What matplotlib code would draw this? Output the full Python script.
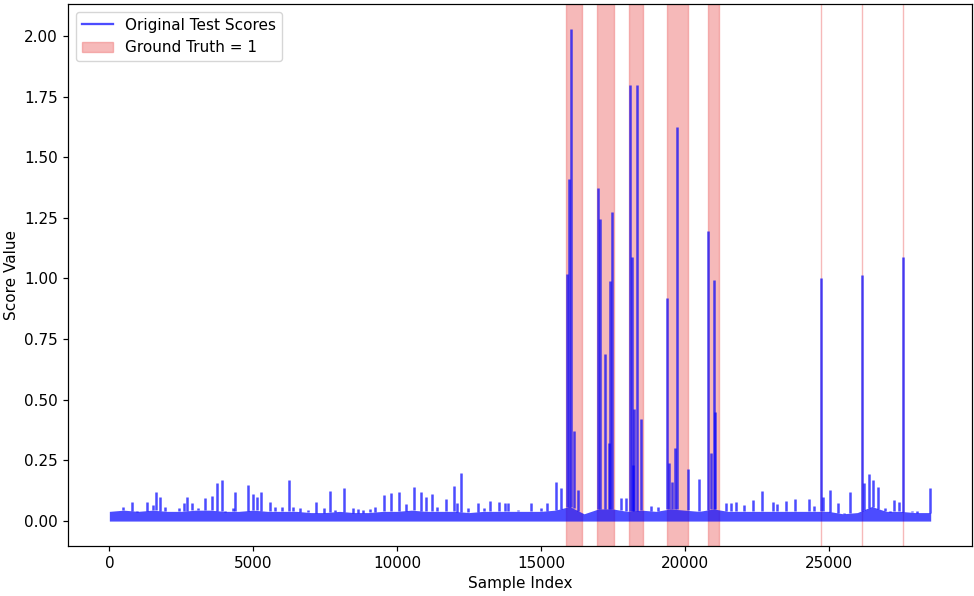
#!/usr/bin/env python3

import numpy as np
import matplotlib
matplotlib.use("Agg")
import matplotlib.pyplot as plt
from matplotlib.lines import Line2D
from matplotlib.patches import Patch

# solid low-level band of the score trace (upper edge, read every ~500 samples)
band_idx = [0, 500, 1000, 1500, 2000, 2500, 3000, 3500, 4000, 4500, 5000, 5500,
            6000, 6500, 7000, 7500, 8000, 8500, 9000, 9500, 10000, 10500, 11000,
            11500, 12000, 12500, 13000, 13500, 14000, 14500, 15000, 15500, 16000,
            16500, 17000, 17500, 18000, 18500, 19000, 19500, 20000, 20500, 21000,
            21500, 22000, 22500, 23000, 23500, 24000, 24500, 25000, 25500, 26000,
            26500, 27000, 27500, 28000, 28550]
band_top = [0.040, 0.045, 0.040, 0.045, 0.040, 0.040, 0.045, 0.045, 0.040, 0.040,
            0.045, 0.040, 0.040, 0.040, 0.035, 0.035, 0.040, 0.035, 0.035, 0.040,
            0.040, 0.045, 0.040, 0.040, 0.040, 0.035, 0.040, 0.040, 0.040, 0.040,
            0.040, 0.045, 0.060, 0.030, 0.050, 0.050, 0.040, 0.045, 0.040, 0.050,
            0.045, 0.040, 0.050, 0.040, 0.040, 0.040, 0.040, 0.040, 0.040, 0.040,
            0.040, 0.030, 0.035, 0.060, 0.040, 0.040, 0.035, 0.035]

# individual spikes of the score trace
spike_idx = [0, 372, 486, 778, 951, 1299, 1507, 1620, 1760, 1934, 2420, 2594, 2708,
             2861, 3090, 3323, 3556, 3750, 3924, 4017, 4285, 4365, 4806, 5000, 5118,
             5267, 5580, 5753, 5986, 6250, 6389, 6622, 6910, 7167, 7465, 7663, 7837,
             8160, 8472, 8646, 8819, 9052, 9226, 9538, 9806, 10059, 10326, 10590,
             10823, 10997, 11215, 11403, 11691, 11979, 12097, 12236, 12465, 12813,
             13021, 13218, 13542, 13740, 13854, 14201, 14642, 15014, 15222, 15510,
             15708, 15892, 15986, 16056, 16135, 16285, 16979, 17038, 17212, 17351,
             17420, 17479, 17792, 17965, 18097, 18160, 18201, 18236, 18333, 18486,
             18833, 19063, 19399, 19469, 19573, 19660, 19722, 20104, 20510, 20813,
             20917, 21007, 21049, 21438, 21611, 21785, 22073, 22361, 22688, 23056,
             23194, 23521, 23833, 24306, 24503, 24729, 24792, 25058, 25336, 25545,
             25729, 25892, 26160, 26229, 26389, 26542, 26725, 26958, 27132, 27281,
             27465, 27594, 27917, 28079, 28347, 28521]
spike_val = [0.042, 0.045, 0.056, 0.077, 0.036, 0.080, 0.066, 0.121, 0.098, 0.056,
             0.052, 0.076, 0.099, 0.076, 0.052, 0.096, 0.103, 0.158, 0.168, 0.036,
             0.052, 0.118, 0.148, 0.110, 0.098, 0.121, 0.080, 0.059, 0.060, 0.169,
             0.059, 0.055, 0.045, 0.080, 0.052, 0.125, 0.045, 0.137, 0.055, 0.049,
             0.045, 0.049, 0.059, 0.107, 0.114, 0.121, 0.070, 0.139, 0.118, 0.100,
             0.110, 0.059, 0.091, 0.146, 0.073, 0.197, 0.052, 0.073, 0.055, 0.082,
             0.080, 0.076, 0.076, 0.045, 0.073, 0.052, 0.076, 0.160, 0.135, 1.020,
             1.410, 2.030, 0.370, 0.128, 1.372, 1.245, 0.690, 0.320, 0.990, 1.273,
             0.094, 0.094, 1.797, 1.090, 0.230, 0.460, 1.797, 0.420, 0.062, 0.060,
             0.920, 0.240, 0.160, 0.300, 1.623, 0.215, 0.173, 1.196, 0.280, 0.994,
             0.450, 0.076, 0.073, 0.080, 0.066, 0.087, 0.125, 0.077, 0.069, 0.084,
             0.091, 0.090, 0.062, 1.000, 0.098, 0.128, 0.076, 0.032, 0.118, 0.032,
             1.015, 0.155, 0.193, 0.169, 0.141, 0.052, 0.038, 0.087, 0.080, 1.090,
             0.040, 0.040, 0.033, 0.135]

# ground truth = 1 intervals
gt_start = [15858, 16958, 18066, 19389, 20799, 24729, 26160, 27594]
gt_end = [16424, 17559, 18563, 20128, 21205, 24730, 26161, 27595]


def main():
    plt.rcParams["font.size"] = 11
    plt.rcParams["axes.linewidth"] = 0.88
    plt.rcParams["xtick.major.size"] = 3.85
    plt.rcParams["ytick.major.size"] = 3.85
    plt.rcParams["xtick.major.width"] = 0.88
    plt.rcParams["ytick.major.width"] = 0.88

    fig = plt.figure(figsize=(9.74, 5.96), dpi=100)
    ax = fig.add_axes([0.0701, 0.0844, 0.9276, 0.9089])

    for s, e in zip(gt_start, gt_end):
        ax.axvspan(s, e, color="lightcoral", alpha=0.55, zorder=1)

    ax.fill_between(band_idx, 0, band_top, color="blue", alpha=0.7, lw=0, zorder=2)
    base = np.interp(spike_idx, band_idx, band_top)
    ax.vlines(spike_idx, base, spike_val, color="blue", alpha=0.7, lw=1.8, zorder=2)

    ax.set_xlim(-0.05 * band_idx[-1], 1.05 * band_idx[-1])
    ax.set_ylim(-0.1015, 2.1315)

    handles = [Line2D([], [], color="blue", alpha=0.7, lw=1.65),
               Patch(facecolor="lightcoral", edgecolor="lightcoral", alpha=0.55)]
    ax.legend(handles, ["Original Test Scores", "Ground Truth = 1"], loc="upper left")

    ax.set_xlabel("Sample Index")
    ax.set_ylabel("Score Value")

    fig.savefig("out.png", dpi=100)


if __name__ == "__main__":
    main()
